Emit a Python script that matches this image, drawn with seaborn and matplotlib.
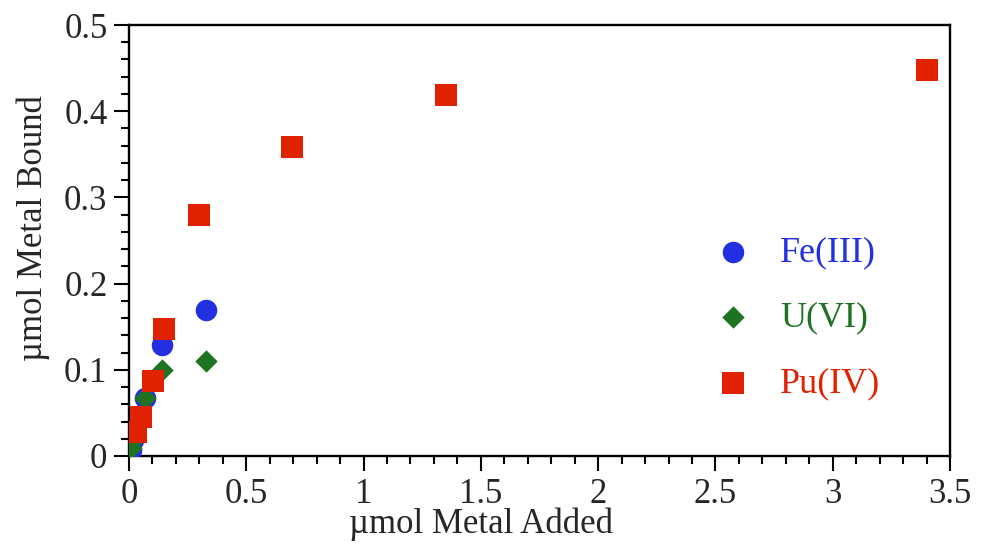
import matplotlib
matplotlib.use("Agg")
import matplotlib.pyplot as plt
import seaborn as sns
import pandas as pd
from matplotlib.ticker import MultipleLocator

fe_x = [0.009, 0.017, 0.068, 0.141, 0.328]
fe_y = [0.007, 0.019, 0.067, 0.129, 0.169]
u_x = [0.008, 0.017, 0.068, 0.141, 0.328]
u_y = [0.009, 0.019, 0.067, 0.100, 0.110]
pu_x = [0.030, 0.051, 0.102, 0.149, 0.298, 0.695, 1.351, 3.40]
pu_y = [0.028, 0.045, 0.087, 0.147, 0.280, 0.358, 0.419, 0.448]

labels = ["Fe(III)", "U(VI)", "Pu(IV)"]
colors = {"Fe(III)": "#2230E2", "U(VI)": "#1E7322", "Pu(IV)": "#E02200"}
markers = {"Fe(III)": "o", "U(VI)": "D", "Pu(IV)": "s"}
sizes = {"Fe(III)": 240, "U(VI)": 130, "Pu(IV)": 230}

df = pd.concat([
    pd.DataFrame({"x": fe_x, "y": fe_y, "metal": "Fe(III)"}),
    pd.DataFrame({"x": u_x, "y": u_y, "metal": "U(VI)"}),
    pd.DataFrame({"x": pu_x, "y": pu_y, "metal": "Pu(IV)"}),
])

sns.set_style("white")
plt.rcParams["font.family"] = ["Liberation Serif", "DejaVu Serif"]

fig = plt.figure(figsize=(9.88, 5.48), dpi=100)
ax = fig.add_axes([129/988, 1-456/548, (950-129)/988, (456-25)/548])

for i, m in enumerate(labels):
    sub = df[df["metal"] == m]
    sns.scatterplot(data=sub, x="x", y="y", ax=ax, color=colors[m], marker=markers[m],
                    s=sizes[m], linewidth=0, label=m, zorder=3 + i)

ax.set_xlim(0, 3.5)
ax.set_ylim(0, 0.5)
ax.set_xticks([0, 0.5, 1, 1.5, 2, 2.5, 3, 3.5])
ax.set_xticklabels(["0", "0.5", "1", "1.5", "2", "2.5", "3", "3.5"])
ax.set_yticks([0, 0.1, 0.2, 0.3, 0.4, 0.5])
ax.set_yticklabels(["0", "0.1", "0.2", "0.3", "0.4", "0.5"])
ax.xaxis.set_minor_locator(MultipleLocator(0.1))
ax.yaxis.set_minor_locator(MultipleLocator(0.02))

ax.tick_params(which="major", direction="out", length=10.5, width=1.5, labelsize=25, color="black",
               bottom=True, left=True, top=False, right=False, pad=5)
ax.tick_params(which="minor", direction="out", length=5.5, width=1.5, color="black",
               bottom=True, left=True, top=False, right=False)
for sp in ax.spines.values():
    sp.set_linewidth(1.7)
    sp.set_color("black")
    sp.set_visible(True)

ax.set_xlabel("\u00b5mol Metal Added", fontsize=25, labelpad=-2)
ax.set_ylabel("\u00b5mol Metal Bound", fontsize=25, labelpad=10)
ax.xaxis.label.set_x(0.429)
ax.yaxis.label.set_y(0.529)

leg = ax.legend(loc="center left", bbox_to_anchor=(0.714, 0.32), frameon=False, fontsize=26,
                labelspacing=0.89, handlelength=1.0, handletextpad=0.8, borderaxespad=0,
                borderpad=0)
for t, m in zip(leg.get_texts(), labels):
    t.set_color(colors[m])

fig.savefig("out.png", dpi=100)
